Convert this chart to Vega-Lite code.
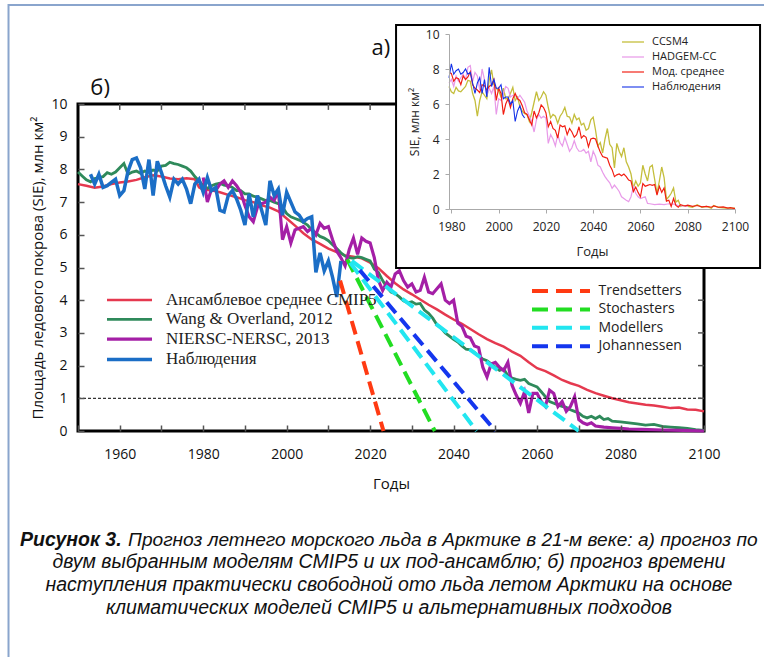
{
"$schema": "https://vega.github.io/schema/vega-lite/v6.json",
"width": 626, "height": 327,
"autosize": "none",
"padding": {"left": 78, "top": 104, "right": 60, "bottom": 226},
"background": "white",
"config": {"view": {"stroke": "black", "strokeWidth": 3}, "font": "Open Sans", "axis": {"grid": false, "labelFlush": false}, "legend": {"padding": 0, "labelLimit": 0}},
"datasets": {
"main": [
{"series":"cmip","year":1950,"sie":7.55},{"series":"cmip","year":1952,"sie":7.5},{"series":"cmip","year":1954,"sie":7.44},{"series":"cmip","year":1956,"sie":7.48},{"series":"cmip","year":1958,"sie":7.55},{"series":"cmip","year":1960,"sie":7.6},{"series":"cmip","year":1962,"sie":7.63},{"series":"cmip","year":1964,"sie":7.68},{"series":"cmip","year":1966,"sie":7.76},{"series":"cmip","year":1968,"sie":7.82},{"series":"cmip","year":1970,"sie":7.78},{"series":"cmip","year":1972,"sie":7.72},{"series":"cmip","year":1974,"sie":7.7},{"series":"cmip","year":1976,"sie":7.73},{"series":"cmip","year":1978,"sie":7.7},{"series":"cmip","year":1979,"sie":7.45},{"series":"cmip","year":1980,"sie":7.38},{"series":"cmip","year":1982,"sie":7.36},{"series":"cmip","year":1984,"sie":7.3},{"series":"cmip","year":1986,"sie":7.22},{"series":"cmip","year":1988,"sie":7.15},{"series":"cmip","year":1990,"sie":7.06},{"series":"cmip","year":1992,"sie":7.0},{"series":"cmip","year":1994,"sie":6.9},{"series":"cmip","year":1996,"sie":6.83},{"series":"cmip","year":1998,"sie":6.72},{"series":"cmip","year":2000,"sie":6.5},{"series":"cmip","year":2002,"sie":6.28},{"series":"cmip","year":2004,"sie":6.05},{"series":"cmip","year":2006,"sie":5.86},{"series":"cmip","year":2008,"sie":5.72},{"series":"cmip","year":2010,"sie":5.58},{"series":"cmip","year":2012,"sie":5.47},{"series":"cmip","year":2014,"sie":5.37},{"series":"cmip","year":2016,"sie":5.33},{"series":"cmip","year":2018,"sie":5.28},{"series":"cmip","year":2020,"sie":5.15},{"series":"cmip","year":2022,"sie":4.98},{"series":"cmip","year":2024,"sie":4.74},{"series":"cmip","year":2026,"sie":4.52},{"series":"cmip","year":2028,"sie":4.33},{"series":"cmip","year":2030,"sie":4.18},{"series":"cmip","year":2032,"sie":4.02},{"series":"cmip","year":2034,"sie":3.86},{"series":"cmip","year":2036,"sie":3.72},{"series":"cmip","year":2038,"sie":3.56},{"series":"cmip","year":2040,"sie":3.41},{"series":"cmip","year":2042,"sie":3.28},{"series":"cmip","year":2044,"sie":3.12},{"series":"cmip","year":2046,"sie":2.96},{"series":"cmip","year":2048,"sie":2.81},{"series":"cmip","year":2050,"sie":2.69},{"series":"cmip","year":2052,"sie":2.58},{"series":"cmip","year":2054,"sie":2.43},{"series":"cmip","year":2056,"sie":2.3},{"series":"cmip","year":2058,"sie":2.1},{"series":"cmip","year":2060,"sie":1.92},{"series":"cmip","year":2062,"sie":1.83},{"series":"cmip","year":2064,"sie":1.7},{"series":"cmip","year":2066,"sie":1.56},{"series":"cmip","year":2068,"sie":1.46},{"series":"cmip","year":2070,"sie":1.38},{"series":"cmip","year":2072,"sie":1.26},{"series":"cmip","year":2074,"sie":1.16},{"series":"cmip","year":2076,"sie":1.08},{"series":"cmip","year":2078,"sie":1.0},{"series":"cmip","year":2080,"sie":0.94},{"series":"cmip","year":2082,"sie":0.88},{"series":"cmip","year":2084,"sie":0.84},{"series":"cmip","year":2086,"sie":0.8},{"series":"cmip","year":2088,"sie":0.78},{"series":"cmip","year":2090,"sie":0.74},{"series":"cmip","year":2092,"sie":0.7},{"series":"cmip","year":2094,"sie":0.72},{"series":"cmip","year":2096,"sie":0.66},{"series":"cmip","year":2098,"sie":0.65},{"series":"cmip","year":2100,"sie":0.6},
{"series":"wang","year":1950,"sie":7.92},{"series":"wang","year":1951,"sie":7.8},{"series":"wang","year":1952,"sie":7.68},{"series":"wang","year":1953,"sie":7.62},{"series":"wang","year":1954,"sie":7.72},{"series":"wang","year":1955,"sie":7.75},{"series":"wang","year":1956,"sie":7.78},{"series":"wang","year":1957,"sie":7.9},{"series":"wang","year":1958,"sie":7.85},{"series":"wang","year":1959,"sie":7.92},{"series":"wang","year":1960,"sie":8.05},{"series":"wang","year":1961,"sie":8.18},{"series":"wang","year":1962,"sie":7.85},{"series":"wang","year":1963,"sie":7.92},{"series":"wang","year":1964,"sie":7.95},{"series":"wang","year":1965,"sie":7.88},{"series":"wang","year":1966,"sie":7.95},{"series":"wang","year":1967,"sie":7.92},{"series":"wang","year":1968,"sie":7.98},{"series":"wang","year":1969,"sie":7.95},{"series":"wang","year":1970,"sie":8.1},{"series":"wang","year":1971,"sie":8.12},{"series":"wang","year":1972,"sie":8.22},{"series":"wang","year":1973,"sie":8.18},{"series":"wang","year":1974,"sie":8.15},{"series":"wang","year":1975,"sie":8.1},{"series":"wang","year":1976,"sie":8.05},{"series":"wang","year":1977,"sie":7.95},{"series":"wang","year":1978,"sie":7.78},{"series":"wang","year":1979,"sie":7.65},{"series":"wang","year":1980,"sie":7.5},{"series":"wang","year":1981,"sie":7.42},{"series":"wang","year":1982,"sie":7.5},{"series":"wang","year":1983,"sie":7.55},{"series":"wang","year":1984,"sie":7.58},{"series":"wang","year":1985,"sie":7.52},{"series":"wang","year":1986,"sie":7.5},{"series":"wang","year":1987,"sie":7.45},{"series":"wang","year":1988,"sie":7.35},{"series":"wang","year":1989,"sie":7.35},{"series":"wang","year":1990,"sie":7.25},{"series":"wang","year":1991,"sie":7.25},{"series":"wang","year":1992,"sie":7.18},{"series":"wang","year":1993,"sie":7.15},{"series":"wang","year":1994,"sie":7.1},{"series":"wang","year":1995,"sie":7.05},{"series":"wang","year":1996,"sie":7.05},{"series":"wang","year":1997,"sie":7.0},{"series":"wang","year":1998,"sie":6.95},{"series":"wang","year":1999,"sie":6.85},{"series":"wang","year":2000,"sie":6.65},{"series":"wang","year":2001,"sie":6.55},{"series":"wang","year":2002,"sie":6.5},{"series":"wang","year":2003,"sie":6.45},{"series":"wang","year":2004,"sie":6.38},{"series":"wang","year":2005,"sie":6.3},{"series":"wang","year":2006,"sie":6.15},{"series":"wang","year":2007,"sie":6.05},{"series":"wang","year":2008,"sie":5.95},{"series":"wang","year":2009,"sie":5.9},{"series":"wang","year":2010,"sie":5.82},{"series":"wang","year":2011,"sie":5.7},{"series":"wang","year":2012,"sie":5.58},{"series":"wang","year":2013,"sie":5.45},{"series":"wang","year":2014,"sie":5.35},{"series":"wang","year":2015,"sie":5.3},{"series":"wang","year":2016,"sie":5.28},{"series":"wang","year":2017,"sie":5.33},{"series":"wang","year":2018,"sie":5.3},{"series":"wang","year":2019,"sie":5.25},{"series":"wang","year":2020,"sie":5.2},{"series":"wang","year":2021,"sie":4.95},{"series":"wang","year":2022,"sie":4.85},{"series":"wang","year":2023,"sie":4.6},{"series":"wang","year":2024,"sie":4.4},{"series":"wang","year":2025,"sie":4.25},{"series":"wang","year":2026,"sie":4.2},{"series":"wang","year":2027,"sie":4.1},{"series":"wang","year":2028,"sie":3.98},{"series":"wang","year":2029,"sie":3.92},{"series":"wang","year":2030,"sie":3.95},{"series":"wang","year":2031,"sie":3.88},{"series":"wang","year":2032,"sie":3.9},{"series":"wang","year":2033,"sie":3.7},{"series":"wang","year":2034,"sie":3.6},{"series":"wang","year":2035,"sie":3.45},{"series":"wang","year":2036,"sie":3.25},{"series":"wang","year":2037,"sie":3.15},{"series":"wang","year":2038,"sie":3.0},{"series":"wang","year":2039,"sie":2.9},{"series":"wang","year":2040,"sie":2.8},{"series":"wang","year":2041,"sie":2.72},{"series":"wang","year":2042,"sie":2.6},{"series":"wang","year":2043,"sie":2.5},{"series":"wang","year":2044,"sie":2.48},{"series":"wang","year":2045,"sie":2.4},{"series":"wang","year":2046,"sie":2.3},{"series":"wang","year":2047,"sie":2.2},{"series":"wang","year":2048,"sie":2.15},{"series":"wang","year":2049,"sie":2.05},{"series":"wang","year":2050,"sie":1.95},{"series":"wang","year":2051,"sie":1.85},{"series":"wang","year":2052,"sie":1.9},{"series":"wang","year":2053,"sie":1.7},{"series":"wang","year":2054,"sie":1.62},{"series":"wang","year":2055,"sie":1.58},{"series":"wang","year":2056,"sie":1.55},{"series":"wang","year":2057,"sie":1.58},{"series":"wang","year":2058,"sie":1.45},{"series":"wang","year":2059,"sie":1.4},{"series":"wang","year":2060,"sie":1.35},{"series":"wang","year":2061,"sie":1.2},{"series":"wang","year":2062,"sie":1.05},{"series":"wang","year":2063,"sie":0.9},{"series":"wang","year":2064,"sie":0.85},{"series":"wang","year":2065,"sie":0.8},{"series":"wang","year":2066,"sie":0.75},{"series":"wang","year":2067,"sie":0.72},{"series":"wang","year":2068,"sie":0.65},{"series":"wang","year":2069,"sie":0.6},{"series":"wang","year":2070,"sie":0.55},{"series":"wang","year":2071,"sie":0.45},{"series":"wang","year":2072,"sie":0.4},{"series":"wang","year":2073,"sie":0.45},{"series":"wang","year":2074,"sie":0.38},{"series":"wang","year":2075,"sie":0.45},{"series":"wang","year":2076,"sie":0.35},{"series":"wang","year":2077,"sie":0.38},{"series":"wang","year":2078,"sie":0.3},{"series":"wang","year":2080,"sie":0.28},{"series":"wang","year":2082,"sie":0.25},{"series":"wang","year":2084,"sie":0.22},{"series":"wang","year":2086,"sie":0.18},{"series":"wang","year":2088,"sie":0.2},{"series":"wang","year":2090,"sie":0.14},{"series":"wang","year":2092,"sie":0.12},{"series":"wang","year":2094,"sie":0.1},{"series":"wang","year":2096,"sie":0.08},{"series":"wang","year":2098,"sie":0.04},{"series":"wang","year":2100,"sie":0.02},
{"series":"niersc","year":1980,"sie":7.75},{"series":"niersc","year":1981,"sie":7.0},{"series":"niersc","year":1982,"sie":7.4},{"series":"niersc","year":1983,"sie":7.35},{"series":"niersc","year":1984,"sie":7.55},{"series":"niersc","year":1985,"sie":7.65},{"series":"niersc","year":1986,"sie":7.45},{"series":"niersc","year":1987,"sie":7.65},{"series":"niersc","year":1988,"sie":7.5},{"series":"niersc","year":1989,"sie":7.3},{"series":"niersc","year":1990,"sie":6.9},{"series":"niersc","year":1991,"sie":6.55},{"series":"niersc","year":1992,"sie":6.4},{"series":"niersc","year":1993,"sie":6.85},{"series":"niersc","year":1994,"sie":6.95},{"series":"niersc","year":1995,"sie":7.0},{"series":"niersc","year":1996,"sie":7.15},{"series":"niersc","year":1997,"sie":7.05},{"series":"niersc","year":1998,"sie":7.35},{"series":"niersc","year":1999,"sie":5.85},{"series":"niersc","year":2000,"sie":6.25},{"series":"niersc","year":2001,"sie":5.75},{"series":"niersc","year":2002,"sie":6.15},{"series":"niersc","year":2003,"sie":6.2},{"series":"niersc","year":2004,"sie":6.25},{"series":"niersc","year":2005,"sie":6.1},{"series":"niersc","year":2006,"sie":6.2},{"series":"niersc","year":2007,"sie":6.0},{"series":"niersc","year":2008,"sie":6.35},{"series":"niersc","year":2009,"sie":6.2},{"series":"niersc","year":2010,"sie":6.25},{"series":"niersc","year":2011,"sie":5.85},{"series":"niersc","year":2012,"sie":5.5},{"series":"niersc","year":2013,"sie":5.3},{"series":"niersc","year":2014,"sie":5.05},{"series":"niersc","year":2015,"sie":5.55},{"series":"niersc","year":2016,"sie":5.9},{"series":"niersc","year":2017,"sie":5.4},{"series":"niersc","year":2018,"sie":5.9},{"series":"niersc","year":2019,"sie":5.8},{"series":"niersc","year":2020,"sie":5.75},{"series":"niersc","year":2021,"sie":5.3},{"series":"niersc","year":2022,"sie":4.6},{"series":"niersc","year":2023,"sie":4.3},{"series":"niersc","year":2024,"sie":4.55},{"series":"niersc","year":2025,"sie":4.4},{"series":"niersc","year":2026,"sie":4.8},{"series":"niersc","year":2027,"sie":4.9},{"series":"niersc","year":2028,"sie":4.6},{"series":"niersc","year":2029,"sie":4.4},{"series":"niersc","year":2030,"sie":4.5},{"series":"niersc","year":2031,"sie":4.25},{"series":"niersc","year":2032,"sie":4.3},{"series":"niersc","year":2033,"sie":4.7},{"series":"niersc","year":2034,"sie":4.25},{"series":"niersc","year":2035,"sie":4.2},{"series":"niersc","year":2036,"sie":4.35},{"series":"niersc","year":2037,"sie":4.5},{"series":"niersc","year":2038,"sie":4.0},{"series":"niersc","year":2039,"sie":3.9},{"series":"niersc","year":2040,"sie":4.0},{"series":"niersc","year":2041,"sie":3.3},{"series":"niersc","year":2042,"sie":3.2},{"series":"niersc","year":2043,"sie":2.9},{"series":"niersc","year":2044,"sie":2.85},{"series":"niersc","year":2045,"sie":2.6},{"series":"niersc","year":2046,"sie":2.55},{"series":"niersc","year":2047,"sie":1.95},{"series":"niersc","year":2048,"sie":1.65},{"series":"niersc","year":2049,"sie":2.05},{"series":"niersc","year":2050,"sie":2.1},{"series":"niersc","year":2051,"sie":1.95},{"series":"niersc","year":2052,"sie":1.85},{"series":"niersc","year":2053,"sie":2.1},{"series":"niersc","year":2054,"sie":1.4},{"series":"niersc","year":2055,"sie":1.1},{"series":"niersc","year":2056,"sie":0.85},{"series":"niersc","year":2057,"sie":1.2},{"series":"niersc","year":2058,"sie":0.55},{"series":"niersc","year":2059,"sie":1.15},{"series":"niersc","year":2060,"sie":1.15},{"series":"niersc","year":2061,"sie":0.9},{"series":"niersc","year":2062,"sie":0.75},{"series":"niersc","year":2063,"sie":1.25},{"series":"niersc","year":2064,"sie":1.15},{"series":"niersc","year":2065,"sie":0.75},{"series":"niersc","year":2066,"sie":0.9},{"series":"niersc","year":2067,"sie":0.6},{"series":"niersc","year":2068,"sie":0.75},{"series":"niersc","year":2069,"sie":1.05},{"series":"niersc","year":2070,"sie":0.35},{"series":"niersc","year":2071,"sie":0.25},{"series":"niersc","year":2072,"sie":0.2},{"series":"niersc","year":2073,"sie":0.25},{"series":"niersc","year":2074,"sie":0.15},{"series":"niersc","year":2076,"sie":0.12},{"series":"niersc","year":2078,"sie":0.1},{"series":"niersc","year":2080,"sie":0.08},{"series":"niersc","year":2082,"sie":0.06},{"series":"niersc","year":2085,"sie":0.05},{"series":"niersc","year":2090,"sie":0.03},{"series":"niersc","year":2095,"sie":0.02},{"series":"niersc","year":2100,"sie":0.0},
{"series":"obs","year":1953,"sie":7.85},{"series":"obs","year":1954,"sie":7.55},{"series":"obs","year":1955,"sie":7.85},{"series":"obs","year":1956,"sie":7.45},{"series":"obs","year":1957,"sie":7.5},{"series":"obs","year":1958,"sie":7.6},{"series":"obs","year":1959,"sie":7.7},{"series":"obs","year":1960,"sie":7.2},{"series":"obs","year":1961,"sie":7.35},{"series":"obs","year":1962,"sie":7.95},{"series":"obs","year":1963,"sie":8.3},{"series":"obs","year":1964,"sie":8.35},{"series":"obs","year":1965,"sie":8.05},{"series":"obs","year":1966,"sie":7.4},{"series":"obs","year":1967,"sie":8.3},{"series":"obs","year":1968,"sie":7.2},{"series":"obs","year":1969,"sie":8.25},{"series":"obs","year":1970,"sie":7.9},{"series":"obs","year":1971,"sie":7.5},{"series":"obs","year":1972,"sie":7.15},{"series":"obs","year":1973,"sie":7.7},{"series":"obs","year":1974,"sie":7.55},{"series":"obs","year":1975,"sie":7.7},{"series":"obs","year":1976,"sie":7.4},{"series":"obs","year":1977,"sie":6.95},{"series":"obs","year":1978,"sie":7.55},{"series":"obs","year":1979,"sie":7.7},{"series":"obs","year":1980,"sie":7.3},{"series":"obs","year":1981,"sie":7.75},{"series":"obs","year":1982,"sie":7.35},{"series":"obs","year":1983,"sie":7.45},{"series":"obs","year":1984,"sie":6.75},{"series":"obs","year":1985,"sie":6.7},{"series":"obs","year":1986,"sie":7.2},{"series":"obs","year":1987,"sie":7.35},{"series":"obs","year":1988,"sie":7.1},{"series":"obs","year":1989,"sie":6.75},{"series":"obs","year":1990,"sie":6.3},{"series":"obs","year":1991,"sie":7.25},{"series":"obs","year":1992,"sie":6.55},{"series":"obs","year":1993,"sie":7.2},{"series":"obs","year":1994,"sie":6.75},{"series":"obs","year":1995,"sie":6.3},{"series":"obs","year":1996,"sie":7.65},{"series":"obs","year":1997,"sie":7.2},{"series":"obs","year":1998,"sie":7.4},{"series":"obs","year":1999,"sie":6.6},{"series":"obs","year":2000,"sie":7.3},{"series":"obs","year":2001,"sie":7.0},{"series":"obs","year":2002,"sie":6.7},{"series":"obs","year":2003,"sie":6.6},{"series":"obs","year":2004,"sie":6.4},{"series":"obs","year":2005,"sie":6.5},{"series":"obs","year":2006,"sie":6.55},{"series":"obs","year":2007,"sie":4.85},{"series":"obs","year":2008,"sie":5.45},{"series":"obs","year":2009,"sie":4.9},{"series":"obs","year":2010,"sie":5.2},{"series":"obs","year":2011,"sie":4.7},{"series":"obs","year":2012,"sie":4.1},{"series":"obs","year":2013,"sie":5.2}
],
"proj": [
{"proj":"Trendsetters","lid":"t","year":2012.8,"sie":4.6},{"proj":"Trendsetters","lid":"t","year":2023.2,"sie":0},
{"proj":"Stochasters","lid":"s","year":2014.5,"sie":5.25},{"proj":"Stochasters","lid":"s","year":2035.5,"sie":0},
{"proj":"Modellers","lid":"m1","year":2015.2,"sie":5.15},{"proj":"Modellers","lid":"m1","year":2045.5,"sie":0},
{"proj":"Modellers","lid":"m2","year":2015.6,"sie":5.2},{"proj":"Modellers","lid":"m2","year":2070,"sie":0},
{"proj":"Johannessen","lid":"j","year":2017.5,"sie":4.92},{"proj":"Johannessen","lid":"j","year":2050,"sie":0}
],
"inset": [
{"series":"CCSM4","year":1979,"sie":7.0},{"series":"CCSM4","year":1980,"sie":6.7},{"series":"CCSM4","year":1981,"sie":6.6},{"series":"CCSM4","year":1982,"sie":6.95},{"series":"CCSM4","year":1983,"sie":6.75},{"series":"CCSM4","year":1984,"sie":6.7},{"series":"CCSM4","year":1985,"sie":6.85},{"series":"CCSM4","year":1986,"sie":7.0},{"series":"CCSM4","year":1987,"sie":7.35},{"series":"CCSM4","year":1988,"sie":7.3},{"series":"CCSM4","year":1989,"sie":6.6},{"series":"CCSM4","year":1990,"sie":6.2},{"series":"CCSM4","year":1991,"sie":5.3},{"series":"CCSM4","year":1992,"sie":6.2},{"series":"CCSM4","year":1993,"sie":6.7},{"series":"CCSM4","year":1994,"sie":6.5},{"series":"CCSM4","year":1995,"sie":6.3},{"series":"CCSM4","year":1996,"sie":7.35},{"series":"CCSM4","year":1997,"sie":7.95},{"series":"CCSM4","year":1998,"sie":7.1},{"series":"CCSM4","year":1999,"sie":6.9},{"series":"CCSM4","year":2000,"sie":6.75},{"series":"CCSM4","year":2001,"sie":6.4},{"series":"CCSM4","year":2002,"sie":6.9},{"series":"CCSM4","year":2003,"sie":6.3},{"series":"CCSM4","year":2004,"sie":6.3},{"series":"CCSM4","year":2005,"sie":6.6},{"series":"CCSM4","year":2006,"sie":6.95},{"series":"CCSM4","year":2007,"sie":6.2},{"series":"CCSM4","year":2008,"sie":6.4},{"series":"CCSM4","year":2009,"sie":5.85},{"series":"CCSM4","year":2010,"sie":5.6},{"series":"CCSM4","year":2011,"sie":5.45},{"series":"CCSM4","year":2012,"sie":5.4},{"series":"CCSM4","year":2013,"sie":5.0},{"series":"CCSM4","year":2014,"sie":5.5},{"series":"CCSM4","year":2015,"sie":6.1},{"series":"CCSM4","year":2016,"sie":6.7},{"series":"CCSM4","year":2017,"sie":6.2},{"series":"CCSM4","year":2018,"sie":6.4},{"series":"CCSM4","year":2019,"sie":6.7},{"series":"CCSM4","year":2020,"sie":6.5},{"series":"CCSM4","year":2021,"sie":5.8},{"series":"CCSM4","year":2022,"sie":5.2},{"series":"CCSM4","year":2023,"sie":5.4},{"series":"CCSM4","year":2024,"sie":5.3},{"series":"CCSM4","year":2025,"sie":4.9},{"series":"CCSM4","year":2026,"sie":5.3},{"series":"CCSM4","year":2027,"sie":5.5},{"series":"CCSM4","year":2028,"sie":5.8},{"series":"CCSM4","year":2029,"sie":5.3},{"series":"CCSM4","year":2030,"sie":5.25},{"series":"CCSM4","year":2031,"sie":4.9},{"series":"CCSM4","year":2032,"sie":5.4},{"series":"CCSM4","year":2033,"sie":5.1},{"series":"CCSM4","year":2034,"sie":5.2},{"series":"CCSM4","year":2035,"sie":4.8},{"series":"CCSM4","year":2036,"sie":4.9},{"series":"CCSM4","year":2037,"sie":4.5},{"series":"CCSM4","year":2038,"sie":4.6},{"series":"CCSM4","year":2039,"sie":5.1},{"series":"CCSM4","year":2040,"sie":5.25},{"series":"CCSM4","year":2041,"sie":4.5},{"series":"CCSM4","year":2042,"sie":3.6},{"series":"CCSM4","year":2043,"sie":3.8},{"series":"CCSM4","year":2044,"sie":3.2},{"series":"CCSM4","year":2045,"sie":4.0},{"series":"CCSM4","year":2046,"sie":4.6},{"series":"CCSM4","year":2047,"sie":3.7},{"series":"CCSM4","year":2048,"sie":3.5},{"series":"CCSM4","year":2049,"sie":2.35},{"series":"CCSM4","year":2050,"sie":3.75},{"series":"CCSM4","year":2051,"sie":3.3},{"series":"CCSM4","year":2052,"sie":3.0},{"series":"CCSM4","year":2053,"sie":3.5},{"series":"CCSM4","year":2054,"sie":2.7},{"series":"CCSM4","year":2055,"sie":2.4},{"series":"CCSM4","year":2056,"sie":2.0},{"series":"CCSM4","year":2057,"sie":1.2},{"series":"CCSM4","year":2058,"sie":1.6},{"series":"CCSM4","year":2059,"sie":1.3},{"series":"CCSM4","year":2060,"sie":1.5},{"series":"CCSM4","year":2061,"sie":2.5},{"series":"CCSM4","year":2062,"sie":2.0},{"series":"CCSM4","year":2063,"sie":1.6},{"series":"CCSM4","year":2064,"sie":2.4},{"series":"CCSM4","year":2065,"sie":2.5},{"series":"CCSM4","year":2066,"sie":1.7},{"series":"CCSM4","year":2067,"sie":0.9},{"series":"CCSM4","year":2068,"sie":1.6},{"series":"CCSM4","year":2069,"sie":2.4},{"series":"CCSM4","year":2070,"sie":1.8},{"series":"CCSM4","year":2071,"sie":0.55},{"series":"CCSM4","year":2072,"sie":0.7},{"series":"CCSM4","year":2073,"sie":0.9},{"series":"CCSM4","year":2074,"sie":1.2},{"series":"CCSM4","year":2075,"sie":0.4},{"series":"CCSM4","year":2076,"sie":0.5},{"series":"CCSM4","year":2077,"sie":0.15},{"series":"CCSM4","year":2078,"sie":0.2},{"series":"CCSM4","year":2080,"sie":0.15},{"series":"CCSM4","year":2082,"sie":0.1},{"series":"CCSM4","year":2084,"sie":0.25},{"series":"CCSM4","year":2086,"sie":0.1},{"series":"CCSM4","year":2088,"sie":0.15},{"series":"CCSM4","year":2090,"sie":0.05},{"series":"CCSM4","year":2091,"sie":0.2},{"series":"CCSM4","year":2093,"sie":0.1},{"series":"CCSM4","year":2096,"sie":0.05},{"series":"CCSM4","year":2100,"sie":0.05},
{"series":"HADGEM-CC","year":1979,"sie":7.2},{"series":"HADGEM-CC","year":1980,"sie":7.4},{"series":"HADGEM-CC","year":1981,"sie":7.0},{"series":"HADGEM-CC","year":1982,"sie":7.6},{"series":"HADGEM-CC","year":1983,"sie":7.3},{"series":"HADGEM-CC","year":1984,"sie":7.5},{"series":"HADGEM-CC","year":1985,"sie":7.7},{"series":"HADGEM-CC","year":1986,"sie":7.4},{"series":"HADGEM-CC","year":1987,"sie":8.1},{"series":"HADGEM-CC","year":1988,"sie":8.2},{"series":"HADGEM-CC","year":1989,"sie":7.3},{"series":"HADGEM-CC","year":1990,"sie":7.8},{"series":"HADGEM-CC","year":1991,"sie":7.6},{"series":"HADGEM-CC","year":1992,"sie":6.8},{"series":"HADGEM-CC","year":1993,"sie":8.0},{"series":"HADGEM-CC","year":1994,"sie":7.4},{"series":"HADGEM-CC","year":1995,"sie":6.5},{"series":"HADGEM-CC","year":1996,"sie":6.9},{"series":"HADGEM-CC","year":1997,"sie":6.6},{"series":"HADGEM-CC","year":1998,"sie":7.0},{"series":"HADGEM-CC","year":1999,"sie":5.4},{"series":"HADGEM-CC","year":2000,"sie":6.3},{"series":"HADGEM-CC","year":2001,"sie":6.2},{"series":"HADGEM-CC","year":2002,"sie":6.6},{"series":"HADGEM-CC","year":2003,"sie":7.0},{"series":"HADGEM-CC","year":2004,"sie":6.9},{"series":"HADGEM-CC","year":2005,"sie":6.4},{"series":"HADGEM-CC","year":2006,"sie":6.5},{"series":"HADGEM-CC","year":2007,"sie":6.5},{"series":"HADGEM-CC","year":2008,"sie":6.3},{"series":"HADGEM-CC","year":2009,"sie":6.5},{"series":"HADGEM-CC","year":2010,"sie":6.3},{"series":"HADGEM-CC","year":2011,"sie":6.1},{"series":"HADGEM-CC","year":2012,"sie":5.6},{"series":"HADGEM-CC","year":2013,"sie":5.3},{"series":"HADGEM-CC","year":2014,"sie":5.0},{"series":"HADGEM-CC","year":2015,"sie":4.4},{"series":"HADGEM-CC","year":2016,"sie":5.1},{"series":"HADGEM-CC","year":2017,"sie":5.4},{"series":"HADGEM-CC","year":2018,"sie":5.2},{"series":"HADGEM-CC","year":2019,"sie":5.3},{"series":"HADGEM-CC","year":2020,"sie":5.2},{"series":"HADGEM-CC","year":2021,"sie":3.75},{"series":"HADGEM-CC","year":2022,"sie":4.25},{"series":"HADGEM-CC","year":2023,"sie":4.0},{"series":"HADGEM-CC","year":2024,"sie":3.6},{"series":"HADGEM-CC","year":2025,"sie":4.25},{"series":"HADGEM-CC","year":2026,"sie":3.8},{"series":"HADGEM-CC","year":2027,"sie":3.6},{"series":"HADGEM-CC","year":2028,"sie":4.1},{"series":"HADGEM-CC","year":2029,"sie":3.7},{"series":"HADGEM-CC","year":2030,"sie":3.3},{"series":"HADGEM-CC","year":2031,"sie":3.5},{"series":"HADGEM-CC","year":2032,"sie":3.9},{"series":"HADGEM-CC","year":2033,"sie":3.5},{"series":"HADGEM-CC","year":2034,"sie":3.3},{"series":"HADGEM-CC","year":2035,"sie":3.3},{"series":"HADGEM-CC","year":2036,"sie":3.4},{"series":"HADGEM-CC","year":2037,"sie":3.2},{"series":"HADGEM-CC","year":2038,"sie":3.3},{"series":"HADGEM-CC","year":2039,"sie":2.7},{"series":"HADGEM-CC","year":2040,"sie":3.3},{"series":"HADGEM-CC","year":2041,"sie":3.0},{"series":"HADGEM-CC","year":2042,"sie":2.5},{"series":"HADGEM-CC","year":2043,"sie":2.4},{"series":"HADGEM-CC","year":2044,"sie":2.1},{"series":"HADGEM-CC","year":2045,"sie":1.85},{"series":"HADGEM-CC","year":2046,"sie":1.66},{"series":"HADGEM-CC","year":2047,"sie":1.5},{"series":"HADGEM-CC","year":2048,"sie":1.18},{"series":"HADGEM-CC","year":2049,"sie":1.37},{"series":"HADGEM-CC","year":2050,"sie":1.2},{"series":"HADGEM-CC","year":2051,"sie":1.0},{"series":"HADGEM-CC","year":2052,"sie":0.7},{"series":"HADGEM-CC","year":2053,"sie":0.6},{"series":"HADGEM-CC","year":2054,"sie":0.5},{"series":"HADGEM-CC","year":2055,"sie":0.42},{"series":"HADGEM-CC","year":2056,"sie":0.7},{"series":"HADGEM-CC","year":2057,"sie":1.28},{"series":"HADGEM-CC","year":2058,"sie":0.9},{"series":"HADGEM-CC","year":2059,"sie":0.7},{"series":"HADGEM-CC","year":2060,"sie":0.6},{"series":"HADGEM-CC","year":2061,"sie":0.65},{"series":"HADGEM-CC","year":2062,"sie":0.7},{"series":"HADGEM-CC","year":2063,"sie":0.32},{"series":"HADGEM-CC","year":2064,"sie":0.3},{"series":"HADGEM-CC","year":2066,"sie":0.25},{"series":"HADGEM-CC","year":2068,"sie":0.28},{"series":"HADGEM-CC","year":2070,"sie":0.25},{"series":"HADGEM-CC","year":2072,"sie":0.3},{"series":"HADGEM-CC","year":2074,"sie":0.28},{"series":"HADGEM-CC","year":2076,"sie":0.2},{"series":"HADGEM-CC","year":2080,"sie":0.15},
{"series":"Мод. среднее","year":1979,"sie":7.8},{"series":"Мод. среднее","year":1980,"sie":7.75},{"series":"Мод. среднее","year":1981,"sie":7.3},{"series":"Мод. среднее","year":1982,"sie":7.5},{"series":"Мод. среднее","year":1983,"sie":7.45},{"series":"Мод. среднее","year":1984,"sie":7.1},{"series":"Мод. среднее","year":1985,"sie":7.6},{"series":"Мод. среднее","year":1986,"sie":7.4},{"series":"Мод. среднее","year":1987,"sie":7.55},{"series":"Мод. среднее","year":1988,"sie":7.85},{"series":"Мод. среднее","year":1989,"sie":7.1},{"series":"Мод. среднее","year":1990,"sie":6.9},{"series":"Мод. среднее","year":1991,"sie":6.8},{"series":"Мод. среднее","year":1992,"sie":6.65},{"series":"Мод. среднее","year":1993,"sie":7.1},{"series":"Мод. среднее","year":1994,"sie":7.05},{"series":"Мод. среднее","year":1995,"sie":6.8},{"series":"Мод. среднее","year":1996,"sie":7.0},{"series":"Мод. среднее","year":1997,"sie":7.1},{"series":"Мод. среднее","year":1998,"sie":7.4},{"series":"Мод. среднее","year":1999,"sie":6.2},{"series":"Мод. среднее","year":2000,"sie":6.9},{"series":"Мод. среднее","year":2001,"sie":6.6},{"series":"Мод. среднее","year":2002,"sie":5.4},{"series":"Мод. среднее","year":2003,"sie":6.0},{"series":"Мод. среднее","year":2004,"sie":6.3},{"series":"Мод. среднее","year":2005,"sie":5.8},{"series":"Мод. среднее","year":2006,"sie":6.3},{"series":"Мод. среднее","year":2007,"sie":6.6},{"series":"Мод. среднее","year":2008,"sie":6.3},{"series":"Мод. среднее","year":2009,"sie":6.2},{"series":"Мод. среднее","year":2010,"sie":5.9},{"series":"Мод. среднее","year":2011,"sie":5.5},{"series":"Мод. среднее","year":2012,"sie":5.4},{"series":"Мод. среднее","year":2013,"sie":5.1},{"series":"Мод. среднее","year":2014,"sie":4.8},{"series":"Мод. среднее","year":2015,"sie":5.6},{"series":"Мод. среднее","year":2016,"sie":5.2},{"series":"Мод. среднее","year":2017,"sie":5.5},{"series":"Мод. среднее","year":2018,"sie":5.95},{"series":"Мод. среднее","year":2019,"sie":5.8},{"series":"Мод. среднее","year":2020,"sie":5.5},{"series":"Мод. среднее","year":2021,"sie":4.7},{"series":"Мод. среднее","year":2022,"sie":5.0},{"series":"Мод. среднее","year":2023,"sie":4.6},{"series":"Мод. среднее","year":2024,"sie":4.5},{"series":"Мод. среднее","year":2025,"sie":4.05},{"series":"Мод. среднее","year":2026,"sie":4.8},{"series":"Мод. среднее","year":2027,"sie":4.7},{"series":"Мод. среднее","year":2028,"sie":4.75},{"series":"Мод. среднее","year":2029,"sie":4.25},{"series":"Мод. среднее","year":2030,"sie":4.6},{"series":"Мод. среднее","year":2031,"sie":4.4},{"series":"Мод. среднее","year":2032,"sie":4.1},{"series":"Мод. среднее","year":2033,"sie":4.25},{"series":"Мод. среднее","year":2034,"sie":4.7},{"series":"Мод. среднее","year":2035,"sie":4.05},{"series":"Мод. среднее","year":2036,"sie":4.2},{"series":"Мод. среднее","year":2037,"sie":4.1},{"series":"Мод. среднее","year":2038,"sie":3.55},{"series":"Мод. среднее","year":2039,"sie":4.0},{"series":"Мод. среднее","year":2040,"sie":4.05},{"series":"Мод. среднее","year":2041,"sie":4.0},{"series":"Мод. среднее","year":2042,"sie":3.6},{"series":"Мод. среднее","year":2043,"sie":3.25},{"series":"Мод. среднее","year":2044,"sie":3.0},{"series":"Мод. среднее","year":2045,"sie":2.95},{"series":"Мод. среднее","year":2046,"sie":2.9},{"series":"Мод. среднее","year":2047,"sie":2.5},{"series":"Мод. среднее","year":2048,"sie":2.25},{"series":"Мод. среднее","year":2049,"sie":1.85},{"series":"Мод. среднее","year":2050,"sie":1.95},{"series":"Мод. среднее","year":2051,"sie":2.0},{"series":"Мод. среднее","year":2052,"sie":1.9},{"series":"Мод. среднее","year":2053,"sie":2.0},{"series":"Мод. среднее","year":2054,"sie":1.85},{"series":"Мод. среднее","year":2055,"sie":1.65},{"series":"Мод. среднее","year":2056,"sie":1.6},{"series":"Мод. среднее","year":2057,"sie":1.0},{"series":"Мод. среднее","year":2058,"sie":1.25},{"series":"Мод. среднее","year":2059,"sie":0.95},{"series":"Мод. среднее","year":2060,"sie":0.7},{"series":"Мод. среднее","year":2061,"sie":1.45},{"series":"Мод. среднее","year":2062,"sie":1.3},{"series":"Мод. среднее","year":2063,"sie":1.35},{"series":"Мод. среднее","year":2064,"sie":1.4},{"series":"Мод. среднее","year":2065,"sie":1.35},{"series":"Мод. среднее","year":2066,"sie":1.4},{"series":"Мод. среднее","year":2067,"sie":0.8},{"series":"Мод. среднее","year":2068,"sie":1.3},{"series":"Мод. среднее","year":2069,"sie":0.95},{"series":"Мод. среднее","year":2070,"sie":1.2},{"series":"Мод. среднее","year":2071,"sie":0.45},{"series":"Мод. среднее","year":2072,"sie":0.5},{"series":"Мод. среднее","year":2073,"sie":0.15},{"series":"Мод. среднее","year":2074,"sie":0.6},{"series":"Мод. среднее","year":2075,"sie":0.2},{"series":"Мод. среднее","year":2076,"sie":0.1},{"series":"Мод. среднее","year":2077,"sie":0.25},{"series":"Мод. среднее","year":2078,"sie":0.2},{"series":"Мод. среднее","year":2079,"sie":0.18},{"series":"Мод. среднее","year":2080,"sie":0.22},{"series":"Мод. среднее","year":2082,"sie":0.15},{"series":"Мод. среднее","year":2084,"sie":0.2},{"series":"Мод. среднее","year":2086,"sie":0.12},{"series":"Мод. среднее","year":2088,"sie":0.15},{"series":"Мод. среднее","year":2090,"sie":0.1},{"series":"Мод. среднее","year":2091,"sie":0.18},{"series":"Мод. среднее","year":2093,"sie":0.1},{"series":"Мод. среднее","year":2095,"sie":0.12},{"series":"Мод. среднее","year":2097,"sie":0.05},{"series":"Мод. среднее","year":2098,"sie":0.08},{"series":"Мод. среднее","year":2100,"sie":0.02},
{"series":"Наблюдения","year":1979,"sie":7.5},{"series":"Наблюдения","year":1980,"sie":8.3},{"series":"Наблюдения","year":1981,"sie":7.7},{"series":"Наблюдения","year":1982,"sie":7.9},{"series":"Наблюдения","year":1983,"sie":8.0},{"series":"Наблюдения","year":1984,"sie":7.7},{"series":"Наблюдения","year":1985,"sie":7.8},{"series":"Наблюдения","year":1986,"sie":8.0},{"series":"Наблюдения","year":1987,"sie":7.7},{"series":"Наблюдения","year":1988,"sie":7.8},{"series":"Наблюдения","year":1989,"sie":7.2},{"series":"Наблюдения","year":1990,"sie":6.6},{"series":"Наблюдения","year":1991,"sie":7.2},{"series":"Наблюдения","year":1992,"sie":7.5},{"series":"Наблюдения","year":1993,"sie":6.6},{"series":"Наблюдения","year":1994,"sie":7.4},{"series":"Наблюдения","year":1995,"sie":6.4},{"series":"Наблюдения","year":1996,"sie":8.1},{"series":"Наблюдения","year":1997,"sie":7.0},{"series":"Наблюдения","year":1998,"sie":7.4},{"series":"Наблюдения","year":1999,"sie":6.9},{"series":"Наблюдения","year":2000,"sie":6.9},{"series":"Наблюдения","year":2001,"sie":7.1},{"series":"Наблюдения","year":2002,"sie":6.3},{"series":"Наблюдения","year":2003,"sie":6.4},{"series":"Наблюдения","year":2004,"sie":6.4},{"series":"Наблюдения","year":2005,"sie":6.0},{"series":"Наблюдения","year":2006,"sie":6.2},{"series":"Наблюдения","year":2007,"sie":5.0},{"series":"Наблюдения","year":2008,"sie":5.6},{"series":"Наблюдения","year":2009,"sie":5.9},{"series":"Наблюдения","year":2010,"sie":5.4},{"series":"Наблюдения","year":2011,"sie":5.2}
],
"topticks": [{"year":1960},{"year":1970},{"year":1980},{"year":1990},{"year":2000},{"year":2010},{"year":2020}],
"rightticks": [{"sie":1},{"sie":2},{"sie":3},{"sie":4}]
},
"layer": [
{"data": {"values": [{}]}, "mark": {"type": "rect", "fill": "transparent", "stroke": "#8aa5cd", "strokeWidth": 2},
 "encoding": {"x": {"datum": 1933.35, "type": "quantitative", "scale": {"domain": [1950, 2100], "range": [0, 626], "nice": false, "zero": false}, "axis": null}, "x2": {"datum": 2125}, "y": {"datum": 13.03, "type": "quantitative", "scale": {"domain": [0, 10], "range": [327, 0], "nice": false, "zero": false}, "axis": null}, "y2": {"datum": -8}}},
{"data": {"name": "main"}, "mark": {"type": "line"},
 "encoding": {
  "x": {"field": "year", "type": "quantitative", "scale": {"domain": [1950, 2100], "range": [0, 626], "nice": false, "zero": false},
   "axis": {"orient": "bottom", "zindex": 1, "values": [1950,1960,1970,1980,1990,2000,2010,2020,2030,2040,2050,2060,2070,2080,2090,2100], "format": "d", "labelExpr": "datum.value % 20 == 0 && datum.value > 1950 ? datum.label : ''", "labelFlush": false, "domain": false, "tickSize": -6, "tickColor": "#555", "tickWidth": 1.5, "labelPadding": 22, "labelFont": "Open Sans", "labelFontSize": 14, "labelColor": "#111", "title": "Годы", "titleFont": "Open Sans", "titleFontSize": 15, "titleFontWeight": "normal", "titleColor": "#111", "titlePadding": 15}},
  "y": {"field": "sie", "type": "quantitative", "scale": {"domain": [0, 10], "range": [327, 0], "nice": false, "zero": false},
   "axis": {"orient": "left", "zindex": 1, "values": [0,1,2,3,4,5,6,7,8,9,10], "labelFlush": false, "domain": false, "tickSize": -6, "tickColor": "#555", "tickWidth": 1.5, "labelPadding": 17, "labelFont": "Open Sans", "labelFontSize": 14, "labelColor": "#111", "title": "Площадь ледового покрова (SIE), млн км²", "titleFont": "Open Sans", "titleFontSize": 15, "titleFontWeight": "normal", "titleColor": "#111", "titlePadding": 5}},
  "color": {"field": "series", "type": "nominal", "scale": {"domain": ["cmip", "wang", "niersc", "obs"], "range": ["#e5394f", "#2f8a5b", "#a41fa6", "#1b6ec6"]},
   "legend": {"orient": "none", "legendX": 42, "legendY": 187, "title": null, "symbolType": "M-3,0H3", "symbolSize": 225, "symbolStrokeWidth": 3, "labelOffset": 27, "rowPadding": 2.3, "labelFont": "Liberation Serif", "labelFontSize": 17, "labelColor": "#222",
    "labelExpr": "datum.label == 'cmip' ? 'Ансамблевое среднее CMIP5' : datum.label == 'wang' ? 'Wang & Overland, 2012' : datum.label == 'niersc' ? 'NIERSC-NERSC, 2013' : 'Наблюдения'"}},
  "strokeWidth": {"field": "series", "type": "nominal", "scale": {"domain": ["cmip", "wang", "niersc", "obs"], "range": [2.5, 3.5, 3, 3]}, "legend": null}
 }},
{"data": {"values": [{}]}, "mark": {"type": "rule", "strokeDash": [3, 2], "strokeWidth": 1, "color": "black"},
 "encoding": {"x": {"datum": 1950, "type": "quantitative", "scale": {"domain": [1950, 2100], "range": [0, 626], "nice": false, "zero": false}, "axis": null}, "x2": {"datum": 2100}, "y": {"datum": 1, "type": "quantitative", "scale": {"domain": [0, 10], "range": [327, 0], "nice": false, "zero": false}, "axis": null}}},
{"data": {"name": "proj"}, "mark": {"type": "line", "strokeDash": [14, 7], "strokeWidth": 4},
 "encoding": {
  "x": {"field": "year", "type": "quantitative", "scale": {"domain": [1950, 2100], "range": [0, 626], "nice": false, "zero": false}, "axis": null},
  "y": {"field": "sie", "type": "quantitative", "scale": {"domain": [0, 10], "range": [327, 0], "nice": false, "zero": false}, "axis": null},
  "detail": {"field": "lid"},
  "color": {"field": "proj", "type": "nominal", "scale": {"domain": ["Trendsetters", "Stochasters", "Modellers", "Johannessen"], "range": ["#ff3a12", "#22dd22", "#22e6f0", "#1436ee"]},
   "legend": {"orient": "none", "legendX": 473.5, "legendY": 177.5, "title": null, "symbolType": "M-3.867,0H3.867", "symbolSize": 225, "symbolStrokeWidth": 4, "symbolDash": [16, 8], "labelOffset": 28, "rowPadding": 0.4, "labelFont": "Open Sans", "labelFontSize": 14, "labelColor": "#222"}}
 }},
{"data": {"name": "topticks"}, "mark": {"type": "rule", "color": "#555", "strokeWidth": 1.5},
 "encoding": {"x": {"field": "year", "type": "quantitative", "scale": {"domain": [1950, 2100], "range": [0, 626], "nice": false, "zero": false}, "axis": null}, "y": {"datum": 10, "type": "quantitative", "scale": {"domain": [0, 10], "range": [327, 0], "nice": false, "zero": false}, "axis": null}, "y2": {"datum": 9.82}}},
{"data": {"name": "rightticks"}, "mark": {"type": "rule", "color": "#555", "strokeWidth": 1.5},
 "encoding": {"y": {"field": "sie", "type": "quantitative", "scale": {"domain": [0, 10], "range": [327, 0], "nice": false, "zero": false}, "axis": null}, "x": {"datum": 2100, "type": "quantitative", "scale": {"domain": [1950, 2100], "range": [0, 626], "nice": false, "zero": false}, "axis": null}, "x2": {"datum": 2098.56}}},
{"data": {"values": [{}]}, "mark": {"type": "text", "text": "б)", "font": "Open Sans", "fontSize": 22, "color": "#111", "align": "center", "baseline": "middle"},
 "encoding": {"x": {"datum": 1955.3, "type": "quantitative", "scale": {"domain": [1950, 2100], "range": [0, 626], "nice": false, "zero": false}, "axis": null}, "y": {"datum": 10.49, "type": "quantitative", "scale": {"domain": [0, 10], "range": [327, 0], "nice": false, "zero": false}, "axis": null}}},
{"data": {"values": [{}]}, "mark": {"type": "text", "text": "а)", "font": "Open Sans", "fontSize": 22, "color": "#111", "align": "center", "baseline": "middle"},
 "encoding": {"x": {"datum": 2022.6, "type": "quantitative", "scale": {"domain": [1950, 2100], "range": [0, 626], "nice": false, "zero": false}, "axis": null}, "y": {"datum": 11.71, "type": "quantitative", "scale": {"domain": [0, 10], "range": [327, 0], "nice": false, "zero": false}, "axis": null}}},
{"data": {"values": [{}]}, "mark": {"type": "text", "text": "Рисунок 3.", "font": "Liberation Sans", "fontSize": 19.5, "fontStyle": "italic", "fontWeight": "bold", "color": "#111", "align": "left", "baseline": "middle"},
 "encoding": {"x": {"datum": 1936.1, "type": "quantitative", "scale": {"domain": [1950, 2100], "range": [0, 626], "nice": false, "zero": false}, "axis": null}, "y": {"datum": -3.333, "type": "quantitative", "scale": {"domain": [0, 10], "range": [327, 0], "nice": false, "zero": false}, "axis": null}}},
{"data": {"values": [{}]}, "mark": {"type": "text", "text": "Прогноз летнего морского льда в Арктике в 21-м веке: а) прогноз по", "font": "Liberation Sans", "fontSize": 19.1, "fontStyle": "italic", "color": "#111", "align": "left", "baseline": "middle"},
 "encoding": {"x": {"datum": 1962.0, "type": "quantitative", "scale": {"domain": [1950, 2100], "range": [0, 626], "nice": false, "zero": false}, "axis": null}, "y": {"datum": -3.333, "type": "quantitative", "scale": {"domain": [0, 10], "range": [327, 0], "nice": false, "zero": false}, "axis": null}}},
{"data": {"values": [{}]}, "mark": {"type": "text", "text": "двум выбранным моделям CMIP5 и их под-ансамблю; б) прогноз времени", "font": "Liberation Sans", "fontSize": 19.5, "fontStyle": "italic", "color": "#111", "align": "center", "baseline": "middle"},
 "encoding": {"x": {"datum": 2024.5, "type": "quantitative", "scale": {"domain": [1950, 2100], "range": [0, 626], "nice": false, "zero": false}, "axis": null}, "y": {"datum": -4.006, "type": "quantitative", "scale": {"domain": [0, 10], "range": [327, 0], "nice": false, "zero": false}, "axis": null}}},
{"data": {"values": [{}]}, "mark": {"type": "text", "text": "наступления практически свободной ото льда летом Арктики на основе", "font": "Liberation Sans", "fontSize": 19.5, "fontStyle": "italic", "color": "#111", "align": "center", "baseline": "middle"},
 "encoding": {"x": {"datum": 2024.5, "type": "quantitative", "scale": {"domain": [1950, 2100], "range": [0, 626], "nice": false, "zero": false}, "axis": null}, "y": {"datum": -4.709, "type": "quantitative", "scale": {"domain": [0, 10], "range": [327, 0], "nice": false, "zero": false}, "axis": null}}},
{"data": {"values": [{}]}, "mark": {"type": "text", "text": "климатических моделей CMIP5 и альтернативных подходов", "font": "Liberation Sans", "fontSize": 19.5, "fontStyle": "italic", "color": "#111", "align": "center", "baseline": "middle"},
 "encoding": {"x": {"datum": 2024.5, "type": "quantitative", "scale": {"domain": [1950, 2100], "range": [0, 626], "nice": false, "zero": false}, "axis": null}, "y": {"datum": -5.413, "type": "quantitative", "scale": {"domain": [0, 10], "range": [327, 0], "nice": false, "zero": false}, "axis": null}}},
{"data": {"values": [{}]}, "mark": {"type": "rect", "fill": "white", "stroke": "black", "strokeWidth": 2},
 "encoding": {"x": {"datum": 1956.6, "type": "quantitative", "scale": {"domain": [1979, 2100], "range": [371, 657], "nice": false, "zero": false}, "axis": null}, "x2": {"datum": 2110.6}, "y": {"datum": 10.51, "type": "quantitative", "scale": {"domain": [0, 10], "range": [105, -70], "nice": false, "zero": false}, "axis": null}, "y2": {"datum": -3.37}}},
{"data": {"name": "inset"}, "mark": {"type": "line"},
 "encoding": {
  "x": {"field": "year", "type": "quantitative", "scale": {"domain": [1979, 2100], "range": [371, 657], "nice": false, "zero": false},
   "axis": {"orient": "bottom", "zindex": 1, "offset": -222, "values": [1980,2000,2020,2040,2060,2080,2100], "format": "d", "labelFlush": false, "domainColor": "#aaa", "tickColor": "#aaa", "tickSize": 4, "labelPadding": 8, "labelFont": "Open Sans", "labelFontSize": 12, "labelColor": "#222", "title": "Годы", "titleFont": "Open Sans", "titleFontSize": 13, "titleFontWeight": "normal", "titleColor": "#222", "titlePadding": 13}},
  "y": {"field": "sie", "type": "quantitative", "scale": {"domain": [0, 10], "range": [105, -70], "nice": false, "zero": false},
   "axis": {"orient": "left", "zindex": 1, "offset": -371, "values": [0,2,4,6,8,10], "labelFlush": false, "domainColor": "#aaa", "tickColor": "#aaa", "tickSize": 4, "labelPadding": 6, "labelFont": "Open Sans", "labelFontSize": 12, "labelColor": "#222", "title": "SIE, млн км²", "titleFont": "Open Sans", "titleFontSize": 12, "titleFontWeight": "normal", "titleColor": "#222", "titlePadding": 4}},
  "color": {"field": "series", "type": "nominal", "scale": {"domain": ["CCSM4", "HADGEM-CC", "Мод. среднее", "Наблюдения"], "range": ["#c4be3c", "#e89be9", "#f21c10", "#1432e8"]},
   "legend": {"orient": "none", "legendX": 549, "legendY": -68, "title": null, "symbolType": "M-2.2,0H2.2", "symbolSize": 100, "labelOffset": 13, "rowPadding": 4, "labelFont": "Open Sans", "labelFontSize": 11, "labelColor": "#222",
    "encode": {"symbols": {"update": {"strokeWidth": {"signal": "datum.value == 'CCSM4' || datum.value == 'HADGEM-CC' ? 1.3 : 2.6"}}}}}},
  "strokeWidth": {"field": "series", "type": "nominal", "scale": {"domain": ["CCSM4", "HADGEM-CC", "Мод. среднее", "Наблюдения"], "range": [1.3, 1.1, 2.6, 2.6]}, "legend": null}
 }}
],
"resolve": {"scale": {"x": "independent", "y": "independent", "color": "independent", "strokeWidth": "independent"}}
}
